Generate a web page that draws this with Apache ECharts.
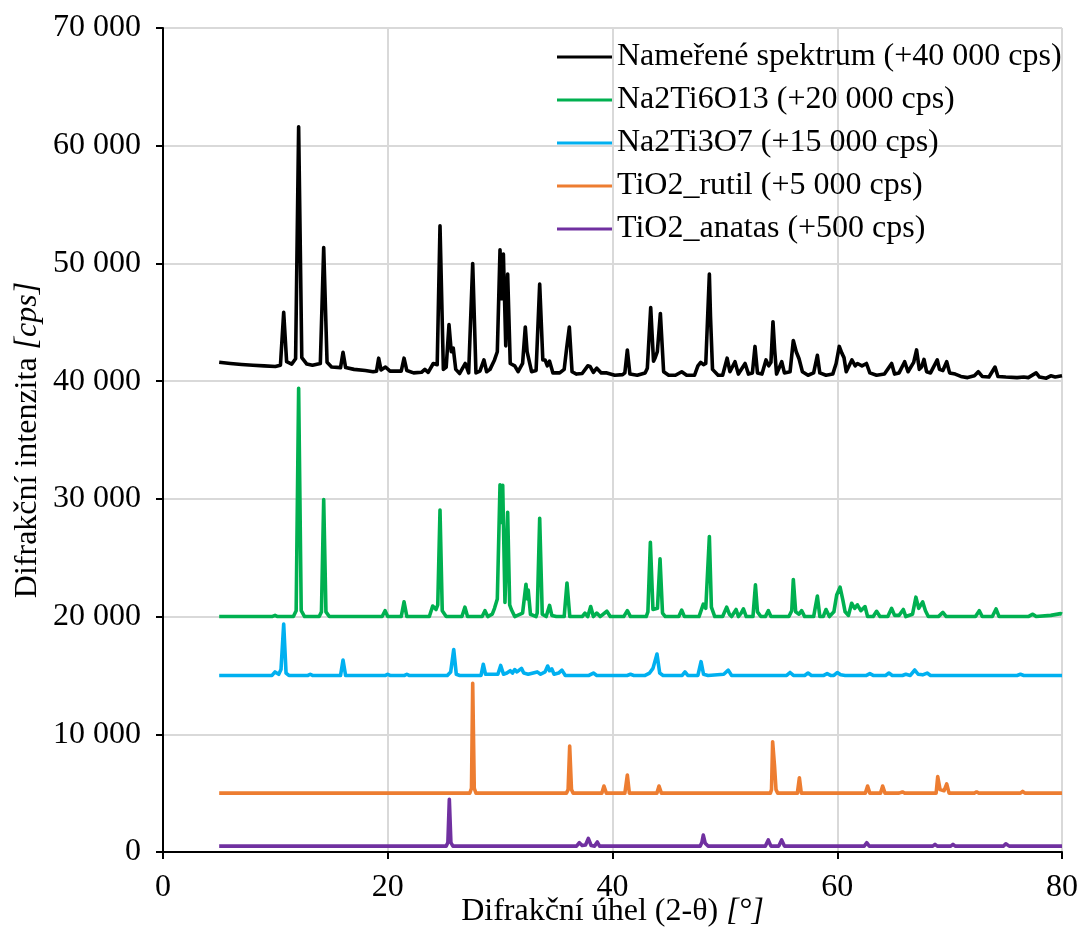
<!DOCTYPE html>
<html>
<head>
<meta charset="utf-8">
<script src="https://cdn.jsdelivr.net/npm/echarts@6/dist/echarts.min.js"></script>
<style>
html,body{margin:0;padding:0;background:#fff;}
#chart{width:1082px;height:931px;}
</style>
</head>
<body>
<div id="chart"></div>
<script>
// Raw diffraction intensities [2θ (°), cps]; each pattern is shifted by its offset when drawn.
const measured = [
  [5.0,1600],[6,1500],[7,1420],[8,1350],[9,1300],[10.0,1250],[10.45,1350],[10.74,5850],[11.0,1650],[11.45,1450],
  [11.8,1900],[12.07,21600],[12.35,2000],[12.8,1450],[13.3,1350],[14.0,1500],[14.3,11350],[14.6,1600],[15.0,1200],
  [15.8,1150],[16.02,2450],[16.25,1150],[17,1000],[18,900],[18.7,800],[19.0,850],[19.19,1950],[19.4,950],[19.8,1200],
  [20.2,850],[20.7,850],[21.2,850],[21.45,1950],[21.7,900],[22.3,700],[23.0,750],[23.3,1000],[23.6,750],[24.05,1500],
  [24.4,1400],[24.65,13200],[24.95,1000],[25.2,1200],[25.45,4800],[25.65,2500],[25.83,2800],[26.05,1000],[26.4,650],
  [26.9,1500],[27.2,700],[27.56,10000],[27.85,700],[28.2,850],[28.56,1800],[28.8,800],[29.1,1000],[29.5,1800],
  [29.75,2500],[29.99,11150],[30.15,7000],[30.29,10800],[30.5,3000],[30.67,9100],[30.9,1500],[31.3,1300],[31.6,800],
  [32.0,1500],[32.24,4600],[32.4,2500],[32.54,2400],[32.8,800],[33.2,900],[33.52,8250],[33.8,1800],[34.0,1800],
  [34.2,1300],[34.4,1700],[34.7,700],[35.3,700],[35.7,1000],[35.92,2800],[36.16,4600],[36.4,800],[36.8,600],
  [37.3,650],[37.8,1300],[38.0,1250],[38.3,750],[38.6,1100],[39.0,700],[39.5,700],[40.2,500],[40.9,550],[41.1,700],
  [41.32,2650],[41.55,600],[42.2,500],[42.9,700],[43.1,1100],[43.4,6250],[43.65,1700],[43.8,2000],[43.99,2500],
  [44.26,5750],[44.55,800],[45.0,500],[45.6,500],[46.16,800],[46.6,500],[47.3,500],[47.6,1300],[47.85,1600],
  [48.1,1400],[48.3,1500],[48.62,9100],[48.72,5500],[48.9,1000],[49.4,500],[49.8,500],[50.2,1950],[50.45,800],
  [50.6,800],[50.9,1650],[51.2,600],[51.8,1500],[52.1,600],[52.45,700],[52.68,2950],[52.9,700],[53.3,600],
  [53.66,1800],[53.9,1300],[54.1,1600],[54.28,5050],[54.43,2650],[54.6,600],[55.06,1650],[55.3,700],[55.8,800],
  [56.09,3450],[56.35,2500],[56.6,1900],[56.9,800],[57.4,500],[57.9,700],[58.23,2200],[58.45,700],[59.0,500],
  [59.6,600],[59.9,1500],[60.18,2950],[60.4,2400],[60.6,2000],[60.8,800],[61.3,1800],[61.6,1300],[61.8,1500],
  [62.2,1300],[62.6,1500],[62.9,700],[63.5,500],[64.2,600],[64.84,1500],[65.1,600],[65.5,700],[66.0,1650],
  [66.3,800],[66.8,1600],[67.06,2650],[67.3,1000],[67.5,1200],[67.72,1850],[67.95,800],[68.3,700],[68.9,1800],
  [69.1,1000],[69.4,900],[69.74,1650],[70.0,700],[70.5,600],[71.0,400],[71.6,300],[72.2,450],[72.55,800],
  [72.9,400],[73.5,350],[74.04,1200],[74.3,400],[75,350],[76,300],[76.6,350],[77.0,300],[77.7,700],[78.0,350],
  [78.6,250],[79.0,450],[79.4,350],[80.0,450]
];

const na2ti6o13 = [
  [5,0],[9.7,0],[9.97,100],[10.2,0],[11.6,0],[11.85,500],[12.07,19400],[12.3,500],[12.6,0],[13.9,0],[14.1,400],
  [14.3,9950],[14.5,400],[14.8,0],[19.5,0],[19.76,500],[20.0,0],[21.2,0],[21.45,1250],[21.7,0],[23.7,0],[24.0,900],
  [24.3,600],[24.45,1000],[24.65,9050],[24.85,500],[25.2,0],[26.6,0],[26.87,800],[27.1,0],[28.4,0],[28.65,500],
  [28.9,0],[29.3,200],[29.5,700],[29.75,1500],[29.99,11200],[30.1,8000],[30.23,11150],[30.43,1200],[30.67,8850],
  [30.85,1000],[31.0,600],[31.3,0],[32.0,300],[32.3,2750],[32.42,1500],[32.5,2250],[32.7,200],[33.2,0],[33.3,300],
  [33.52,8350],[33.75,200],[34.1,0],[34.4,950],[34.6,100],[35.0,0],[35.7,0],[35.95,2850],[36.2,0],[37.3,0],
  [37.55,300],[37.8,0],[38.06,850],[38.3,0],[38.6,300],[38.9,0],[39.5,450],[39.8,0],[41.0,0],[41.32,500],[41.6,0],
  [43.0,0],[43.15,400],[43.37,6300],[43.6,600],[44.0,700],[44.23,4900],[44.45,300],[44.7,0],[45.9,0],[46.16,550],
  [46.4,0],[47.7,0],[48.08,1050],[48.3,700],[48.62,6800],[48.8,800],[49.1,0],[49.8,0],[50.16,800],[50.4,200],
  [50.6,0],[51.0,600],[51.2,0],[51.45,300],[51.65,650],[51.9,0],[52.5,0],[52.72,2700],[52.9,400],[53.2,0],[53.6,0],
  [53.87,500],[54.1,0],[55.7,0],[55.95,500],[56.09,3150],[56.3,400],[56.6,200],[56.83,500],[57.1,0],[57.9,0],
  [58.23,1750],[58.45,0],[58.75,0],[59.0,600],[59.3,0],[59.7,400],[59.95,1830],[60.25,2500],[60.5,1400],[60.7,400],
  [61.0,100],[61.28,1130],[61.55,700],[61.79,1000],[62.1,500],[62.47,850],[62.7,0],[63.2,0],[63.5,450],[63.8,0],
  [64.5,0],[64.84,700],[65.1,100],[65.5,100],[65.88,600],[66.1,0],[66.7,200],[67.0,1650],[67.25,700],[67.6,1250],
  [67.85,500],[68.1,0],[69.0,0],[69.4,350],[69.7,0],[72.3,0],[72.64,500],[72.9,0],[73.8,0],[74.13,650],[74.4,0],
  [77.0,0],[77.4,200],[77.7,0],[79.0,100],[79.88,250],[80,200]
];

const na2ti3o7 = [
  [5,0],[9.7,0],[9.97,300],[10.3,100],[10.5,500],[10.74,4370],[10.95,200],[11.2,0],[12.9,0],[13.1,100],[13.3,0],
  [15.8,0],[16.02,1310],[16.25,0],[19.8,0],[19.99,100],[20.2,0],[21.5,0],[21.7,100],[21.9,0],[25.3,0],[25.6,300],
  [25.87,2200],[26.1,100],[26.4,0],[28.3,0],[28.5,950],[28.7,100],[29.8,100],[30.05,850],[30.3,100],[30.6,200],
  [30.9,400],[31.1,200],[31.3,500],[31.5,300],[31.9,600],[32.1,200],[32.5,100],[33.3,300],[33.6,100],[34.0,300],
  [34.23,800],[34.4,400],[34.6,550],[34.8,100],[35.2,200],[35.5,450],[35.8,0],[37.9,0],[38.3,200],[38.6,0],[41.3,0],
  [41.6,100],[41.9,0],[42.9,0],[43.3,200],[43.6,600],[43.96,1820],[44.2,200],[44.5,0],[46.2,0],[46.45,300],[46.7,0],
  [47.6,0],[47.88,1170],[48.1,100],[48.5,0],[49.9,100],[50.3,450],[50.6,0],[55.5,0],[55.8,250],[56.1,0],[57.1,0],
  [57.4,200],[57.7,0],[58.8,0],[59.1,150],[59.4,0],[59.7,0],[60.0,250],[60.3,50],[60.7,0],[62.6,0],[62.9,150],
  [63.2,0],[64.3,0],[64.6,200],[64.9,0],[65.8,0],[66.1,100],[66.5,0],[66.9,460],[67.2,100],[67.6,50],[68.0,200],
  [68.3,0],[76.0,0],[76.3,100],[76.6,0],[80,0]
];

const rutile = [
  [5,0],[27.3,0],[27.45,400],[27.56,9330],[27.7,400],[27.85,0],[35.9,0],[36.05,300],[36.19,4000],[36.35,300],
  [36.5,0],[39.05,0],[39.24,600],[39.45,0],[41.1,0],[41.32,1540],[41.5,0],[43.95,0],[44.14,600],[44.35,0],
  [54.05,0],[54.15,300],[54.25,4370],[54.42,2300],[54.55,300],[54.7,0],[56.45,0],[56.63,1310],[56.8,0],[62.5,0],
  [62.7,600],[62.9,0],[63.85,0],[64.04,600],[64.25,0],[65.5,0],[65.8,100],[66.0,0],[68.8,0],[68.94,1400],
  [69.15,300],[69.5,200],[69.74,780],[69.95,0],[72.2,0],[72.4,100],[72.6,0],[76.3,0],[76.5,150],[76.7,0],[80,0]
];

const anatase = [
  [5,0],[25.2,0],[25.35,300],[25.48,3980],[25.62,300],[25.8,0],[36.8,0],[37.05,290],[37.3,50],[37.6,100],
  [37.85,660],[38.1,50],[38.4,0],[38.65,350],[38.85,0],[47.8,0],[47.95,300],[48.08,940],[48.25,250],[48.5,0],
  [53.6,0],[53.86,520],[54.1,0],[54.8,0],[55.05,520],[55.3,0],[62.4,0],[62.62,290],[62.85,0],[68.5,0],[68.7,150],
  [68.9,0],[70.1,0],[70.3,150],[70.5,0],[74.8,0],[75.0,200],[75.3,0],[80,0]
];

const seriesNames = [
  'Nameřené spektrum (+40 000 cps)',
  'Na2Ti6O13 (+20 000 cps)',
  'Na2Ti3O7 (+15 000 cps)',
  'TiO2_rutil (+5 000 cps)',
  'TiO2_anatas (+500 cps)'
];
const offsets = [40000, 20000, 15000, 5000, 500];
const patterns = [measured, na2ti6o13, na2ti3o7, rutile, anatase];
const colors = ['#000000', '#00b050', '#00b0f0', '#ed7d31', '#7030a0'];

const FONT = '"Liberation Serif", "Times New Roman", serif';
const FS = 32;

const fmtThousands = v => {
  const s = String(Math.round(v));
  return s.replace(/\B(?=(\d{3})+(?!\d))/g, ' ');
};

const chart = echarts.init(document.getElementById('chart'), null, { renderer: 'canvas' });

chart.setOption({
  animation: false,
  backgroundColor: '#ffffff',
  textStyle: { fontFamily: FONT },
  grid: { left: 163, right: 20, top: 28, bottom: 79, containLabel: false, outerBoundsMode: 'none' },
  legend: {
    orient: 'vertical',
    left: 557,
    top: 41,
    padding: 0,
    icon: 'rect',
    itemWidth: 55,
    itemHeight: 3,
    itemGap: 11,
    textStyle: { fontFamily: FONT, fontSize: FS, color: '#000', padding: [0, 0, 0, 0] },
    data: seriesNames
  },
  xAxis: {
    type: 'value',
    min: 0,
    max: 80,
    interval: 20,
    name: '{n|Difrakční úhel (2-θ) }{i|[°]}',
    nameLocation: 'middle',
    nameGap: 44,
    nameMoveOverlap: false,
    nameTextStyle: {
      rich: {
        n: { fontFamily: FONT, fontSize: FS, color: '#000' },
        i: { fontFamily: FONT, fontSize: FS, color: '#000', fontStyle: 'italic' }
      }
    },
    axisLine: { lineStyle: { color: '#000', width: 2 } },
    axisTick: { show: true, inside: false, length: 7, lineStyle: { color: '#000', width: 2 } },
    axisLabel: { fontFamily: FONT, fontSize: FS, color: '#000', margin: 20 },
    splitLine: { show: true, lineStyle: { color: '#d9d9d9', width: 2 } }
  },
  yAxis: {
    type: 'value',
    min: 0,
    max: 70000,
    interval: 10000,
    name: '{n|Difrakční intenzita }{i|[cps]}',
    nameLocation: 'middle',
    nameGap: 119,
    nameMoveOverlap: false,
    nameRotate: 90,
    nameTextStyle: {
      rich: {
        n: { fontFamily: FONT, fontSize: FS, color: '#000' },
        i: { fontFamily: FONT, fontSize: FS, color: '#000', fontStyle: 'italic' }
      }
    },
    axisLine: { show: true, lineStyle: { color: '#000', width: 2 } },
    axisTick: { show: true, inside: false, length: 7, lineStyle: { color: '#000', width: 2 } },
    axisLabel: { fontFamily: FONT, fontSize: FS, color: '#000', margin: 22, formatter: fmtThousands },
    splitLine: { show: true, lineStyle: { color: '#d9d9d9', width: 2 } }
  },
  series: patterns.map((pts, i) => ({
    name: seriesNames[i],
    type: 'line',
    showSymbol: false,
    symbol: 'none',
    smooth: false,
    color: colors[i],
    lineStyle: { color: colors[i], width: 3.6, join: 'round' },
    data: pts.map(p => [p[0], p[1] + offsets[i]]),
    z: 10 - i
  }))
});
</script>
</body>
</html>
